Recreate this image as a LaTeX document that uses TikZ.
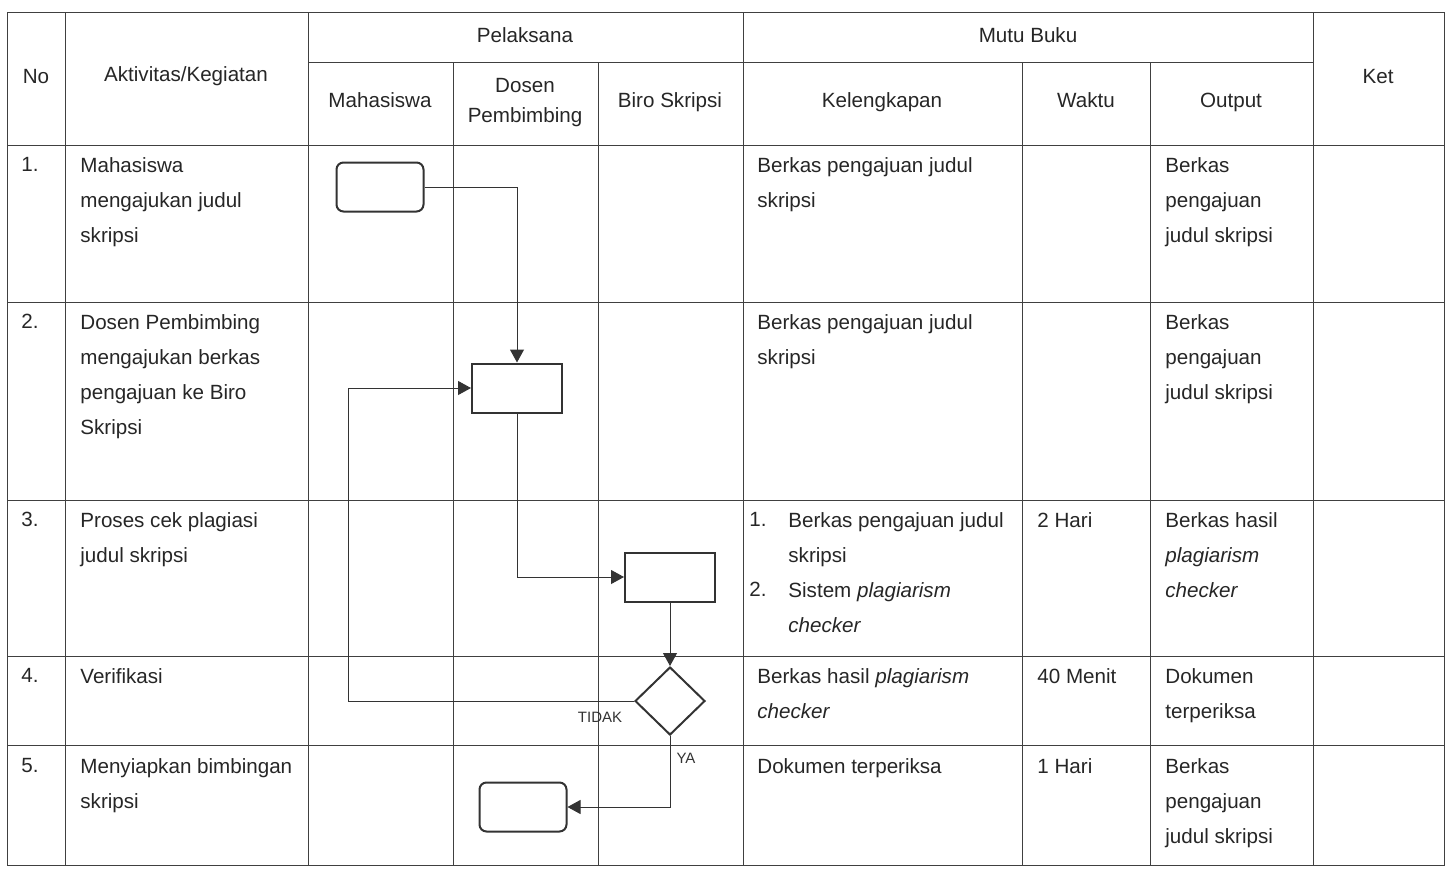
\documentclass[tikz,border=0pt]{standalone}
\usepackage{fontspec}
\setmainfont{Liberation Sans}
\usetikzlibrary{shapes.geometric,arrows.meta}

\begin{document}
\begin{tikzpicture}[x=0.5pt,y=-0.5pt,
    grid/.style={draw=black!75,line width=0.5pt},
    txt/.style={anchor=north west,inner sep=0pt,align=left,text=black!85,font=\fontsize{10.3}{17.5}\selectfont},
    head/.style={inner sep=0pt,align=center,text=black!85,font=\fontsize{10.3}{15}\selectfont},
    head1/.style={head,text height=7.5pt,text depth=2pt},
    term/.style={draw=black!80,line width=1pt,rounded corners=3.5pt,minimum width=43.5pt,minimum height=24.5pt,inner sep=0pt},
    proc/.style={draw=black!80,line width=1pt,minimum width=45pt,minimum height=24.5pt,inner sep=0pt},
    dec/.style={draw=black!80,line width=1pt,diamond,minimum width=35pt,minimum height=34pt,inner sep=0pt},
    flow/.style={draw=black!80,line width=0.5pt,-{Triangle[length=6.5pt,width=7pt]}},
    lbl/.style={inner sep=0pt,text=black!80,font=\fontsize{7.5}{9}\selectfont}]
    \useasboundingbox (0,0) rectangle (1450,868);

    % table grid
    \draw[grid] (7,12) rectangle (1444,865);
    \draw[grid] (308,62) -- (1313,62);
    \draw[grid] (7,145) -- (1444,145);
    \draw[grid] (7,302) -- (1444,302);
    \draw[grid] (7,500) -- (1444,500);
    \draw[grid] (7,656) -- (1444,656);
    \draw[grid] (7,745) -- (1444,745);
    \draw[grid] (65,12) -- (65,865);
    \draw[grid] (308,12) -- (308,865);
    \draw[grid] (743,12) -- (743,865);
    \draw[grid] (1313,12) -- (1313,865);
    \draw[grid] (453,62) -- (453,865);
    \draw[grid] (598,62) -- (598,865);
    \draw[grid] (1022,62) -- (1022,865);
    \draw[grid] (1150,62) -- (1150,865);

    % header
    \node[head1] (hno) at (36,78) {No};
    \node[head1] (hakt) at (186,76) {Aktivitas/Kegiatan};
    \node[head1] (hpel) at (525,37) {Pelaksana};
    \node[head1] (hmutu) at (1028,37) {Mutu Buku};
    \node[head1] (hket) at (1378,78) {Ket};
    \node[head1] (hmhs) at (380,102) {Mahasiswa};
    \node[head] (hdos) at (525,103) {Dosen\\Pembimbing};
    \node[head1] (hbiro) at (670,102) {Biro Skripsi};
    \node[head1] (hkel) at (882,102) {Kelengkapan};
    \node[head1] (hwkt) at (1086,102) {Waktu};
    \node[head1] (hout) at (1231,102) {Output};

    % row 1
    \node[txt] (no1) at (21,157) {1.};
    \node[txt] (akt1) at (80,157) {Mahasiswa\\mengajukan judul\\skripsi};
    \node[txt] (kel1) at (757,157) {Berkas pengajuan judul\\skripsi};
    \node[txt] (out1) at (1165,157) {Berkas\\pengajuan\\judul skripsi};

    % row 2
    \node[txt] (no2) at (21,314) {2.};
    \node[txt] (akt2) at (80,314) {Dosen Pembimbing\\mengajukan berkas\\pengajuan ke Biro\\Skripsi};
    \node[txt] (kel2) at (757,314) {Berkas pengajuan judul\\skripsi};
    \node[txt] (out2) at (1165,314) {Berkas\\pengajuan\\judul skripsi};

    % row 3
    \node[txt] (no3) at (21,512) {3.};
    \node[txt] (akt3) at (80,512) {Proses cek plagiasi\\judul skripsi};
    \node[txt] (num3) at (749,512) {1.\\[17.5pt]2.};
    \node[txt] (kel3) at (788,512) {Berkas pengajuan judul\\skripsi\\Sistem \textit{plagiarism}\\\textit{checker}};
    \node[txt] (wkt3) at (1037,512) {2 Hari};
    \node[txt] (out3) at (1165,512) {Berkas hasil\\\textit{plagiarism}\\\textit{checker}};

    % row 4
    \node[txt] (no4) at (21,668) {4.};
    \node[txt] (akt4) at (80,668) {Verifikasi};
    \node[txt] (kel4) at (757,668) {Berkas hasil \textit{plagiarism}\\\textit{checker}};
    \node[txt] (wkt4) at (1037,668) {40 Menit};
    \node[txt] (out4) at (1165,668) {Dokumen\\terperiksa};

    % row 5
    \node[txt] (no5) at (21,758) {5.};
    \node[txt] (akt5) at (80,758) {Menyiapkan bimbingan\\skripsi};
    \node[txt] (kel5) at (757,758) {Dokumen terperiksa};
    \node[txt] (wkt5) at (1037,758) {1 Hari};
    \node[txt] (out5) at (1165,758) {Berkas\\pengajuan\\judul skripsi};

    % flow
    \node[term] (mulai) at (380,187) {};
    \node[proc] (ajukan) at (517,388) {};
    \node[proc] (cek) at (670,577) {};
    \node[dec] (verif) at (670,701) {};
    \node[term] (selesai) at (523,807) {};
    \coordinate (balik) at (348,388);

    \draw[flow] (mulai.east) -| (ajukan.north);
    \draw[flow] (ajukan.south) |- (cek.west);
    \draw[flow] (cek.south) -- (verif.north);
    \draw[flow] (verif.west) -| (balik) -- (ajukan.west);
    \draw[flow] (verif.south) |- (selesai.east);
    \node[lbl] (tidak) at (600,717) {TIDAK};
    \node[lbl] (ya) at (686,758) {YA};
\end{tikzpicture}
\end{document}
